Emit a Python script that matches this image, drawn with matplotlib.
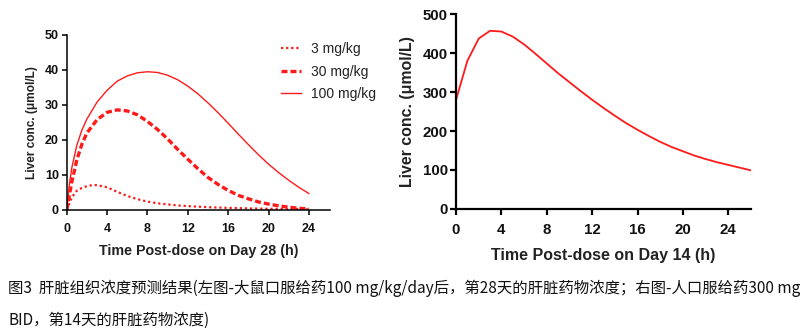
"""
plot.py
Liver concentration prediction, rat (left) and human (right), with caption.
"""
import matplotlib
matplotlib.use("Agg")
import matplotlib.pyplot as plt

RED = "#ff1a1a"
AX_FONT = "Liberation Sans"
CJK = ["Noto Sans CJK SC", "DejaVu Sans"]

# left panel: rat, day 28
t_rat = [0, 0.25, 0.5, 1, 1.5, 2, 3, 4, 5, 6, 7, 8, 9, 10, 11, 12,
         13, 14, 15, 16, 17, 18, 19, 20, 21, 22, 23, 24]
conc_100 = [0, 7, 12, 18.5, 22.8, 26, 30.8, 34.2, 36.8, 38.3, 39.2, 39.5, 39.3,
            38.5, 37.2, 35.4, 33.2, 30.6, 27.8, 24.8, 21.7, 18.7, 15.8, 13.1,
            10.7, 8.5, 6.5, 4.7]
conc_30 = [0, 4, 8, 14.3, 18.8, 22, 25.8, 27.9, 28.6, 28.3, 27.2, 25.3, 23,
           20.3, 17.3, 14.5, 11.8, 9.3, 7.3, 5.6, 4.2, 3.2, 2.3, 1.7, 1.2,
           0.8, 0.5, 0.3]
t_rat3 = [0, 0.25, 0.5, 1, 1.5, 2, 2.5, 3, 4, 5, 6, 7, 8, 9, 10, 11, 12,
          14, 16, 18, 20, 22, 24]
conc_3 = [0, 1.8, 3.6, 5.5, 6.3, 6.8, 7.1, 7.1, 6.5, 5.2, 4.0, 3.1, 2.4, 1.9,
          1.6, 1.3, 1.1, 0.8, 0.6, 0.45, 0.35, 0.28, 0.2]

# right panel: human, day 14
t_hum = list(range(0, 27))
conc_hum = [280, 380, 437, 457, 455, 442, 422, 398, 373, 348, 325, 302, 280,
            259, 239, 220, 203, 187, 172, 159, 148, 137, 128, 120, 113, 106, 99]

caption_1 = ("图3  肝脏组织浓度预测结果(左图-大鼠口服给药100 mg/kg/day后，"
             "第28天的肝脏药物浓度；右图-人口服给药300 mg")
caption_2 = "BID，第14天的肝脏药物浓度)"


def style_axes(ax, fs, lw, ticklen, xpad, ypad):
    for s in ("top", "right"):
        ax.spines[s].set_visible(False)
    for s in ("left", "bottom"):
        ax.spines[s].set_linewidth(lw)
    ax.tick_params(direction="out", length=ticklen, width=lw, labelsize=fs)
    ax.tick_params(axis="x", pad=xpad)
    ax.tick_params(axis="y", pad=ypad)
    for lab in ax.get_xticklabels() + ax.get_yticklabels():
        lab.set_fontfamily(AX_FONT)
        lab.set_fontweight("bold")
        lab.set_color("#111111")


fig = plt.figure(figsize=(8.05, 3.32), dpi=100)

# left
ax1 = fig.add_axes([0.0829, 0.3675, 0.3271, 0.5271])
ax1.plot(t_rat3, conc_3, color=RED, lw=1.6, ls=(0, (1, 1.3)), label="3 mg/kg")
ax1.plot(t_rat, conc_30, color=RED, lw=2.4, ls=(0, (1.8, 0.9)), label="30 mg/kg")
ax1.plot(t_rat, conc_100, color=RED, lw=1.0, label="100 mg/kg")
ax1.set_xlim(0, 26.1)
ax1.set_ylim(0, 50)
ax1.set_xticks(range(0, 25, 4))
ax1.set_yticks(range(0, 51, 10))
style_axes(ax1, 9, 1.1, 3.6, 5.5, 2.0)
ax1.set_xlabel("Time Post-dose on Day 28 (h)", fontsize=10.3, fontweight="bold",
               family=AX_FONT, labelpad=7, color="#222222")
ax1.set_ylabel("Liver conc. (μmol/L)", fontsize=8.6, fontweight="bold",
               family=AX_FONT, labelpad=5, color="#222222")
leg = ax1.legend(loc="upper left", bbox_to_anchor=(281 / 805, 1 - 42 / 332),
                 bbox_transform=fig.transFigure, frameon=False,
                 borderpad=0, borderaxespad=0,
                 handlelength=1.45, handletextpad=0.72, labelspacing=0.62,
                 prop={"family": AX_FONT, "size": 10})
for txt in leg.get_texts():
    txt.set_color("#222222")

# right
ax2 = fig.add_axes([0.5665, 0.3705, 0.3665, 0.5873])
ax2.plot(t_hum, conc_hum, color=RED, lw=1.3)
ax2.set_xlim(0, 26)
ax2.set_ylim(0, 500)
ax2.set_xticks(range(0, 25, 4))
ax2.set_yticks(range(0, 501, 100))
style_axes(ax2, 10.8, 1.6, 4.3, 6.0, 1.5)
ax2.set_xlabel("Time Post-dose on Day 14 (h)", fontsize=11.5, fontweight="bold",
               family=AX_FONT, labelpad=8, color="#222222")
ax2.set_ylabel("Liver conc. (μmol/L)", fontsize=11.4, fontweight="bold",
               family=AX_FONT, labelpad=6, color="#222222")

fig.text(0.010, 1 - 288 / 332, caption_1, fontsize=11.1, family=CJK,
         va="center", ha="left", color="#111111")
fig.text(0.010, 1 - 320 / 332, caption_2, fontsize=11.1, family=CJK,
         va="center", ha="left", color="#111111")

fig.savefig("out.png", dpi=100)
